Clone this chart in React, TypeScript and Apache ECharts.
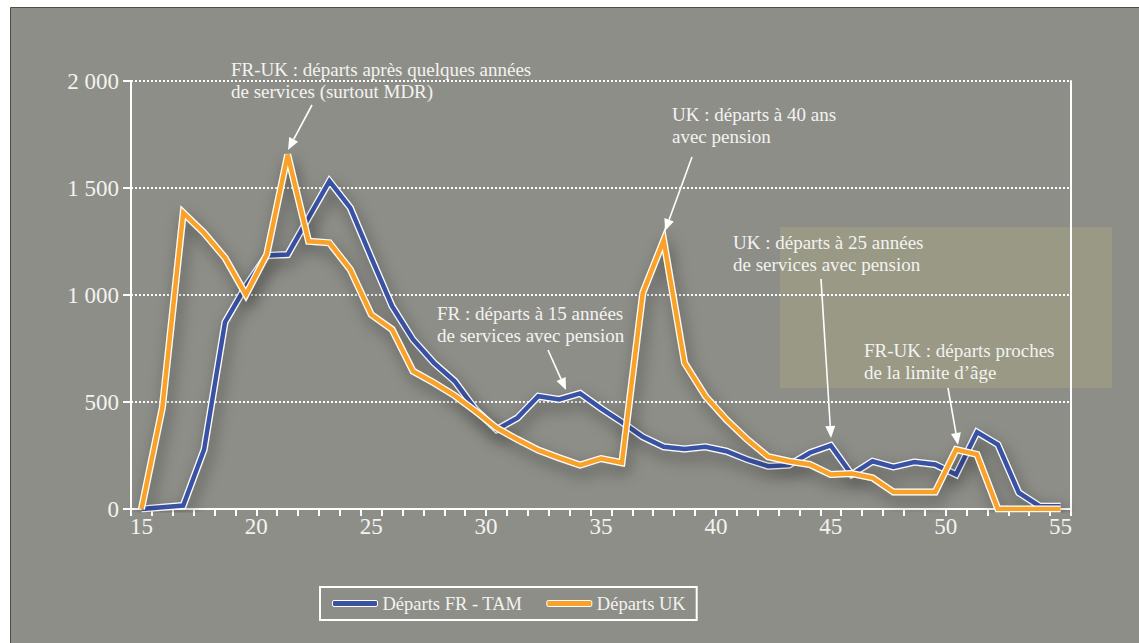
import React, { useEffect, useRef } from "react";
import * as echarts from "echarts";

// 45 points evenly spread between 15 and 55 years
const categories = [
  "15.0", "15.9", "16.8", "17.7", "18.6", "19.5", "20.5", "21.4", "22.3", "23.2",
  "24.1", "25.0", "25.9", "26.8", "27.7", "28.6", "29.5", "30.5", "31.4", "32.3",
  "33.2", "34.1", "35.0", "35.9", "36.8", "37.7", "38.6", "39.5", "40.5", "41.4",
  "42.3", "43.2", "44.1", "45.0", "45.9", "46.8", "47.7", "48.6", "49.5", "50.5",
  "51.4", "52.3", "53.2", "54.1", "55.0",
];

const departsFrTam = [
  0, 8, 16, 278, 873, 1041, 1185, 1189, 1361, 1532,
  1407, 1175, 948, 792, 683, 597, 465, 371, 426, 527,
  512, 540, 470, 406, 337, 291, 281, 291, 270, 231,
  200, 205, 263, 297, 161, 223, 197, 219, 208, 161,
  359, 301, 76, 13, 13,
];

const departsUk = [
  0, 473, 1384, 1290, 1174, 1002, 1189, 1656, 1251, 1244,
  1119, 909, 839, 644, 590, 530, 457, 379, 325, 275,
  239, 205, 236, 216, 1010, 1256, 683, 527, 418, 325,
  244, 223, 208, 161, 166, 146, 79, 79, 79, 278,
  255, 0, 0, 0, 0,
];

const seriesNames = ["Départs FR - TAM", "Départs UK"];
const yTickValues = [0, 500, 1000, 1500, 2000];
const yTickLabels = ["0", "500", "1 000", "1 500", "2 000"];
const xTickValues = [15, 20, 25, 30, 35, 40, 45, 50, 55];

const annotationTexts = [
  "FR-UK : départs après quelques années\nde services (surtout MDR)",
  "UK : départs à 40 ans\navec pension",
  "FR : départs à 15 années\nde services avec pension",
  "UK : départs à 25 années\nde services avec pension",
  "FR-UK : départs proches\nde la limite d’âge",
];

// layout (pixels) for annotations: text top-left and arrow from -> to
const annotationLayout = [
  { tx: 231, ty: 58, ax1: 312, ay1: 105, ax2: 288, ay2: 150 },
  { tx: 672, ty: 103, ax1: 692, ay1: 157, ax2: 665, ay2: 231 },
  { tx: 437, ty: 302, ax1: 548, ay1: 350, ax2: 566, ay2: 390 },
  { tx: 733, ty: 231, ax1: 821, ay1: 279, ax2: 831, ay2: 438 },
  { tx: 864, ty: 339, ax1: 948, ay1: 388, ax2: 958, ay2: 445 },
];

const FONT = "Liberation Serif";
const TEXT = "#f3f3f0";
const BLUE = "#3a52a4";
const ORANGE = "#f9a229";

function arrow(x1: number, y1: number, x2: number, y2: number) {
  const dx = x2 - x1;
  const dy = y2 - y1;
  const len = Math.hypot(dx, dy);
  const ux = dx / len;
  const uy = dy / len;
  const headLen = 12;
  const headW = 5;
  const bx = x2 - ux * headLen;
  const by = y2 - uy * headLen;
  const px = -uy;
  const py = ux;
  return [
    {
      type: "line",
      z: 20,
      shape: { x1, y1, x2: bx, y2: by },
      style: { stroke: "#ffffff", lineWidth: 1.6 },
    },
    {
      type: "polygon",
      z: 20,
      shape: {
        points: [
          [x2, y2],
          [bx + px * headW, by + py * headW],
          [bx - px * headW, by - py * headW],
        ],
      },
      style: { fill: "#ffffff" },
    },
  ];
}

export default function App() {
  const ref = useRef<HTMLDivElement>(null);

  useEffect(() => {
    if (!ref.current) return;
    const chart = echarts.init(ref.current, null, { renderer: "svg" });

    const graphics: any[] = [
      {
        type: "rect",
        z: -10,
        silent: true,
        shape: { x: 10.5, y: 7.5, width: 1140, height: 650 },
        style: { fill: "#8e8e89", stroke: "#4d4d4b", lineWidth: 1 },
      },
      {
        type: "rect",
        z: -5,
        silent: true,
        shape: { x: 780, y: 227, width: 332, height: 161 },
        style: { fill: "#999985" },
      },
    ];
    annotationTexts.forEach((t, i) => {
      const l = annotationLayout[i];
      graphics.push({
        type: "text",
        z: 20,
        x: l.tx,
        y: l.ty,
        style: {
          text: t,
          fill: TEXT,
          fontSize: 19,
          fontFamily: FONT,
          lineHeight: 22,
          verticalAlign: "top",
          align: "left",
        },
      });
      graphics.push(...arrow(l.ax1, l.ay1, l.ax2, l.ay2));
    });

    const shadow = {
      shadowBlur: 16,
      shadowColor: "rgba(0,0,0,0.4)",
      shadowOffsetX: 3,
      shadowOffsetY: 7,
    };

    chart.setOption({
      animation: false,
      textStyle: { fontFamily: FONT },
      grid: { left: 131, top: 81, width: 940, height: 428, containLabel: false },
      legend: {
        data: seriesNames,
        left: 320,
        top: 587,
        orient: "horizontal",
        padding: [7, 11, 7, 12],
        itemGap: 24,
        itemWidth: 45,
        itemHeight: 6,
        icon: "roundRect",
        borderColor: "#ffffff",
        borderWidth: 2,
        borderRadius: 0,
        itemStyle: { borderColor: "#ffffff", borderWidth: 1 },
        textStyle: { color: TEXT, fontSize: 18.5, fontFamily: FONT },
        selectedMode: false,
      },
      xAxis: [
        {
          type: "category",
          data: categories,
          boundaryGap: true,
          position: "bottom",
          axisLine: { show: true, lineStyle: { color: "#ffffff", width: 2 } },
          axisTick: { show: true, interval: 0, length: 7, lineStyle: { color: "#ffffff", width: 2 } },
          axisLabel: { show: false },
          splitLine: { show: false },
        },
        {
          type: "value",
          min: 15 - 20 / 44,
          max: 55 + 20 / 44,
          position: "bottom",
          axisLine: { show: false },
          axisTick: { show: false },
          splitLine: { show: false },
          axisLabel: {
            customValues: xTickValues,
            color: TEXT,
            fontSize: 23,
            fontFamily: FONT,
            margin: 6,
            formatter: (v: number) => String(Math.round(v)),
          },
        },
      ],
      yAxis: [
        {
          type: "value",
          min: 0,
          max: 2000,
          interval: 500,
          position: "left",
          axisLine: { show: true, lineStyle: { color: "#ffffff", width: 2 } },
          axisTick: { show: true, length: 8, lineStyle: { color: "#ffffff", width: 2 } },
          axisLabel: {
            color: TEXT,
            fontSize: 23,
            fontFamily: FONT,
            margin: 12,
            formatter: (v: number) => {
              const idx = yTickValues.indexOf(v);
              return idx >= 0 ? yTickLabels[idx] : "";
            },
          },
          splitLine: { show: true, lineStyle: { color: "#ffffff", width: 2, type: "dotted" } },
        },
        {
          type: "value",
          min: 0,
          max: 2000,
          position: "right",
          axisLine: { show: true, lineStyle: { color: "#ffffff", width: 2 } },
          axisTick: { show: false },
          axisLabel: { show: false },
          splitLine: { show: false },
        },
      ],
      series: [
        {
          name: "outline-fr",
          type: "line",
          data: departsFrTam,
          xAxisIndex: 0,
          yAxisIndex: 0,
          symbol: "none",
          silent: true,
          z: 2,
          lineStyle: { color: "#ffffff", width: 7, join: "miter", ...shadow },
        },
        {
          name: seriesNames[0],
          type: "line",
          data: departsFrTam,
          xAxisIndex: 0,
          yAxisIndex: 0,
          symbol: "none",
          z: 3,
          color: BLUE,
          itemStyle: { color: BLUE },
          lineStyle: { color: BLUE, width: 4.5, join: "miter" },
        },
        {
          name: "outline-uk",
          type: "line",
          data: departsUk,
          xAxisIndex: 0,
          yAxisIndex: 0,
          symbol: "none",
          silent: true,
          z: 4,
          lineStyle: { color: "#ffffff", width: 7, join: "miter", ...shadow },
        },
        {
          name: seriesNames[1],
          type: "line",
          data: departsUk,
          xAxisIndex: 0,
          yAxisIndex: 0,
          symbol: "none",
          z: 5,
          color: ORANGE,
          itemStyle: { color: ORANGE },
          lineStyle: { color: ORANGE, width: 4.5, join: "miter" },
        },
      ],
      graphic: graphics,
    });

    return () => chart.dispose();
  }, []);

  return (
    <div
      ref={ref}
      style={{ position: "absolute", left: 0, top: 0, width: 1139, height: 643 }}
    />
  );
}
